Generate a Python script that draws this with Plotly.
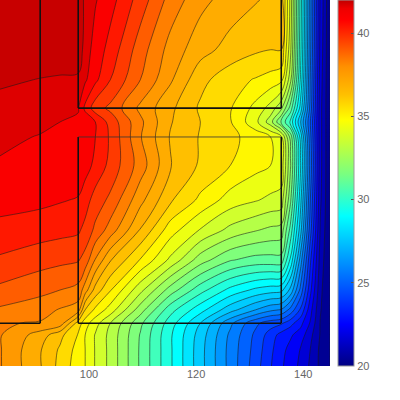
import plotly.graph_objects as go

x_nodes = [83.4, 90.9, 94.6, 98.0, 99.3, 101.2, 104.0, 109.6, 115.2, 120.8, 126.4, 131.1, 133.9, 135.9, 137.6, 139.5, 141.3, 143.2, 145.0]
y_nodes = [68.4, 59.1, 53.5, 48.2, 45.6, 42.8, 37.5, 31.0, 25.4, 19.8, 14.2, 10.5, 8.0, 5.8, 3.0, 0.0]

r01 = [42, 42, 42, 41.9, 41.3, 40.85, 40.4, 39.2, 37.95, 37.1, 36.6, 36.3, 36.12, 36, 33.5, 29.5, 25.5, 21.8, 20]
r02 = [42, 42, 42, 42, 41.1, 40.55, 39.9, 38.5, 37.3, 36.5, 36, 35.7, 35.6, 35.6, 33.2, 29.3, 25.4, 21.7, 20]
r03 = [41.6, 41.42, 41.35, 41.3, 40.9, 40.3, 39.5, 38.2, 37, 35.8, 35.2, 34.9, 34.7, 34.5, 32.6, 29, 25.2, 21.6, 20]
r04 = [41.15, 41.1, 40.95, 40.85, 40, 39.15, 38.7, 37.4, 36.4, 35.5, 35, 34.1, 33.4, 32.5, 30.8, 28.2, 25, 21.5, 20]
r05 = [41.1, 41, 40.8, 40.7, 40.6, 40.15, 39.25, 37.7, 36.3, 35.6, 35, 33.85, 32.65, 31, 29.6, 27.2, 24.6, 21.5, 20]
r06 = [41, 40.75, 40.7, 40.65, 40.5, 40.15, 39.4, 37.6, 36.2, 35.55, 35.1, 34.7, 34.3, 33.8, 31.5, 28.2, 24.8, 21.5, 20]
r07 = [40.7, 40.6, 40.6, 40.55, 40.4, 40, 39.3, 37.9, 36.3, 35.5, 34.95, 34.5, 34.3, 34.1, 31.8, 28.5, 25, 21.5, 20]
r08 = [40.4, 40.3, 40.2, 40.1, 39.8, 39.2, 38.7, 37.1, 35.7, 34.8, 34, 33.7, 33.5, 33.4, 31.2, 28, 24.6, 21.4, 20]
r09 = [39.95, 39.8, 39.7, 39.6, 39.3, 38.7, 37.9, 36.2, 34.6, 33.6, 32.8, 32.4, 32.2, 32.1, 30.2, 27.4, 24.2, 21.2, 20]
r10 = [39.4, 39.1, 39, 38.9, 38.6, 37.5, 36.3, 34.9, 33.5, 32, 31.1, 30.8, 30.8, 30.8, 29, 26.2, 23.4, 21, 20]
r11 = [38.7, 38.4, 38.2, 38, 37.2, 36, 35, 33.2, 31.4, 30, 28.9, 28.3, 28.1, 28, 27, 25, 22.8, 20.8, 20]
r12 = [38.1, 37.8, 37.5, 37.2, 35.6, 34.8, 34, 32, 30, 28.7, 27.4, 26.5, 26, 25.8, 25, 23.8, 22.2, 20.7, 20]
r13 = [37.6, 37.5, 37.3, 35.3, 34.6, 33.9, 33, 31.2, 29.4, 27.8, 26, 24.7, 24.2, 24, 23.5, 22.8, 21.9, 20.6, 20]
r14 = [37.6, 36.6, 35.8, 34.9, 34.3, 33.6, 32.8, 31, 29.2, 27.5, 25.7, 24.4, 23.6, 23, 22.7, 22.3, 21.5, 20.6, 20]
r15 = [37.6, 36.3, 35.5, 34.7, 34.3, 33.6, 32.8, 30.95, 29.2, 27.4, 25.6, 24.3, 23.4, 22.8, 22.4, 21.9, 21.3, 20.5, 20]
r16 = [37.6, 36.3, 35.4, 34.6, 34.3, 33.6, 32.8, 30.95, 29.2, 27.4, 25.6, 24.2, 23.3, 22.7, 22.3, 21.8, 21.2, 20.5, 20]
rows_top_down = [r01, r02, r03, r04, r05, r06, r07, r08, r09, r10, r11, r12, r13, r14, r15, r16]

scale_values = [20, 22.5, 29, 31.5, 34.8, 36.3, 38, 40.8, 41.5, 41.9, 42]
scale_colors = ["#000082", "#0000ff", "#00ffff", "#78ff82", "#ffff00", "#ffc000", "#ff9000", "#ff0000", "#ee0000", "#c80000", "#c80000"]
bar_ticks = [20, 25, 30, 35, 40]
x_ticks = [100, 120, 140]

walls = [
    ([90.9, 90.9], [68.4, 8.0]),
    ([98.0, 98.0], [68.4, 48.2]),
    ([98.0, 98.0], [42.8, 8.0]),
    ([135.9, 135.9], [68.4, 48.2]),
    ([135.9, 135.9], [42.8, 8.0]),
    ([98.0, 135.9], [48.2, 48.2]),
    ([83.4, 90.9], [8.0, 8.0]),
    ([98.0, 135.9], [8.0, 8.0]),
]
thin = ([98.0, 135.9], [42.8, 42.8])

vmin, vmax = scale_values[0], scale_values[-1]
colorscale = [[(v - vmin) / (vmax - vmin), c] for v, c in zip(scale_values, scale_colors)]

fig = go.Figure()
fig.add_trace(go.Contour(
    x=x_nodes, y=y_nodes[::-1], z=rows_top_down[::-1],
    colorscale=colorscale, zmin=vmin, zmax=vmax, showscale=False,
    contours=dict(start=20, end=42, size=0.65, coloring="fill"),
    line=dict(color="rgba(25,25,25,0.8)", width=0.7, smoothing=1),
))
for wx, wy in walls:
    fig.add_trace(go.Scatter(x=wx, y=wy, mode="lines", line=dict(color="#111", width=1.6),
                             showlegend=False, hoverinfo="skip"))
fig.add_trace(go.Scatter(x=thin[0], y=thin[1], mode="lines", line=dict(color="#333", width=0.8),
                         showlegend=False, hoverinfo="skip"))
fig.add_trace(go.Scatter(
    x=[None, None], y=[None, None], mode="markers", showlegend=False,
    marker=dict(color=[vmin, vmax], cmin=vmin, cmax=vmax, colorscale=colorscale, showscale=True,
                colorbar=dict(x=338 / 330, xanchor="left", xpad=0, ypad=0, y=0.5, len=1, thickness=16,
                              tickvals=bar_ticks, ticks="inside", ticklen=3, tickcolor="#555",
                              outlinecolor="#999", outlinewidth=1,
                              tickfont=dict(family="Liberation Sans", size=11, color="#666"))),
))
fig.update_layout(
    width=400, height=400, margin=dict(l=0, r=70, t=0, b=34),
    paper_bgcolor="white", plot_bgcolor="white", showlegend=False,
    xaxis=dict(range=[83.4, 145], tickvals=x_ticks, showgrid=False, zeroline=False, ticks="",
               tickfont=dict(family="Liberation Sans", size=11, color="#666"), showline=False),
    yaxis=dict(range=[0, 68.4], visible=False, showgrid=False, zeroline=False),
)
fig.write_html("out.html", config={"displayModeBar": False}, post_script="document.body.style.margin='0';")
